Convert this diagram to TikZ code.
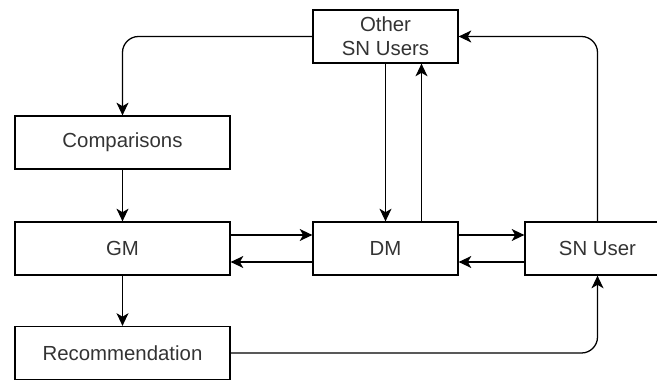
\documentclass[tikz,border=0pt]{standalone}
\usepackage{fontspec}
\setmainfont{Liberation Sans}
\usetikzlibrary{arrows.meta}
\tikzstyle{block} = [rectangle, 
draw=black, 
line width=0.9pt, 
minimum height=1.325cm, 
text centered, 
text=black!80, 
font=\fontsize{14.5}{17}\selectfont]
\tikzstyle{wide} = [block, minimum width=5.375cm]
\tikzstyle{narrow} = [block, minimum width=3.625cm]
\tikzstyle{arrow} = [line width=0.9pt,-{Stealth[length=9pt,width=8.5pt,inset=2.5pt]}]

\begin{document}
\begin{tikzpicture}[node distance=2.65cm]
        \useasboundingbox (-3.0625,-3.3125) rectangle (13.3625,6.2125);
        \node (gm) [wide] {GM};
        \node (comp) [wide, above of=gm] {Comparisons};
        \node (rec) [wide, below of=gm, yshift=0.0375cm] {Recommendation};
        \node (dm) [narrow, right of=gm, xshift=3.925cm] {DM};
        \node (snuser) [narrow, right of=dm, xshift=2.65cm] {SN User};
        \node (other) [narrow, above of=dm, yshift=2.65cm, align=center] {Other\\SN Users};
        \draw [arrow] (comp) -- (gm);
        \draw [arrow] (gm) -- (rec);
        \draw [arrow] ([yshift=0.3375cm]gm.east) -- ([yshift=0.3375cm]dm.west);
        \draw [arrow] ([yshift=-0.3375cm]dm.west) -- ([yshift=-0.3375cm]gm.east);
        \draw [arrow] ([yshift=0.3375cm]dm.east) -- ([yshift=0.3375cm]snuser.west);
        \draw [arrow] ([yshift=-0.3375cm]snuser.west) -- ([yshift=-0.3375cm]dm.east);
        \draw [arrow] (other) -- (dm);
        \draw [arrow] ([xshift=0.9cm]dm.north) -- ([xshift=0.9cm]other.south);
        \draw [arrow, rounded corners=0.4cm] (other.west) -| (comp.north);
        \draw [arrow, rounded corners=0.4cm] (snuser.north) |- (other.east);
        \draw [arrow, rounded corners=0.4cm] (rec.east) -| (snuser.south);
    \end{tikzpicture}
\end{document}
